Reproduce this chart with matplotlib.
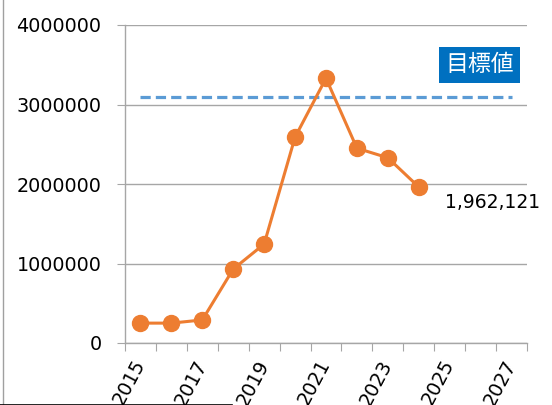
import numpy as np
import matplotlib.pyplot as plt
from matplotlib.lines import Line2D

plt.rcParams['font.family'] = ['DejaVu Sans', 'Noto Sans CJK JP']

# Data
years = [str(y) for y in range(2015, 2028)]
actual_years = years[:10]
values = [250000, 250000, 290000, 930000, 1245000, 2590000, 3330000, 2450000, 2330000, 1962121]
target = 3100000
target_label = "目標値"
last_label = "1,962,121"
y_ticks = [0, 1000000, 2000000, 3000000, 4000000]

orange = "#ED7D31"
blue = "#5B9BD5"
grid_gray = "#A6A6A6"

fig = plt.figure(figsize=(5.52, 4.05), dpi=100)
ax = fig.add_axes([125 / 552, 1 - 343 / 405, 402 / 552, 318 / 405])

x = np.arange(len(years))
xa = np.arange(len(actual_years))

# target line
ax.plot(x, [target] * len(x), color=blue, lw=2.3, linestyle=(0, (3.2, 1.6)), zorder=3)

# actual values
ax.plot(xa, values, color=orange, lw=2.2, marker='o', markersize=11.5,
        markeredgecolor=orange, zorder=4)

ax.set_xlim(-0.5, len(years) - 0.5)
ax.set_ylim(0, 4000000)
ax.set_yticks(y_ticks)
ax.set_yticklabels([str(v) for v in y_ticks], fontsize=13.8)
ax.yaxis.grid(True, color=grid_gray, lw=1)
ax.set_axisbelow(True)

# tick marks at category boundaries, labels at centres of every other year
ax.set_xticks(np.arange(-0.5, len(years), 1.0))
ax.set_xticklabels([])
ax.set_xticks(x[::2], minor=True)
ax.set_xticklabels(years[::2], minor=True, fontsize=13.8, rotation=62,
                   rotation_mode='anchor', ha='right', va='center')
ax.tick_params(axis='x', which='major', length=6, color=grid_gray, direction='out')
ax.tick_params(axis='x', which='minor', length=0, pad=13)
ax.tick_params(axis='y', length=6, color=grid_gray, pad=11)

for s in ['top', 'right']:
    ax.spines[s].set_visible(False)
for s in ['left', 'bottom']:
    ax.spines[s].set_color(grid_gray)
    ax.spines[s].set_linewidth(1)

# annotations
ax.annotate(last_label, xy=(xa[-1], values[-1]), xytext=(19, -11),
            textcoords='offset points', fontsize=13.5, ha='left', va='center')
ax.text(10.97, 3500000, target_label, fontsize=16.5, color='white', ha='center', va='center',
        fontfamily=['Noto Sans CJK JP'],
        bbox=dict(boxstyle='square,pad=0.28', facecolor='#0070C0', edgecolor='none'))

# frame artefacts
fig.add_artist(Line2D([2.5 / 552, 2.5 / 552], [0, 1], color='#A0A0A0', lw=1))
fig.add_artist(Line2D([0, 232 / 552], [0.5 / 405, 0.5 / 405], color='black', lw=1.2))

fig.savefig("out.png", dpi=100)
